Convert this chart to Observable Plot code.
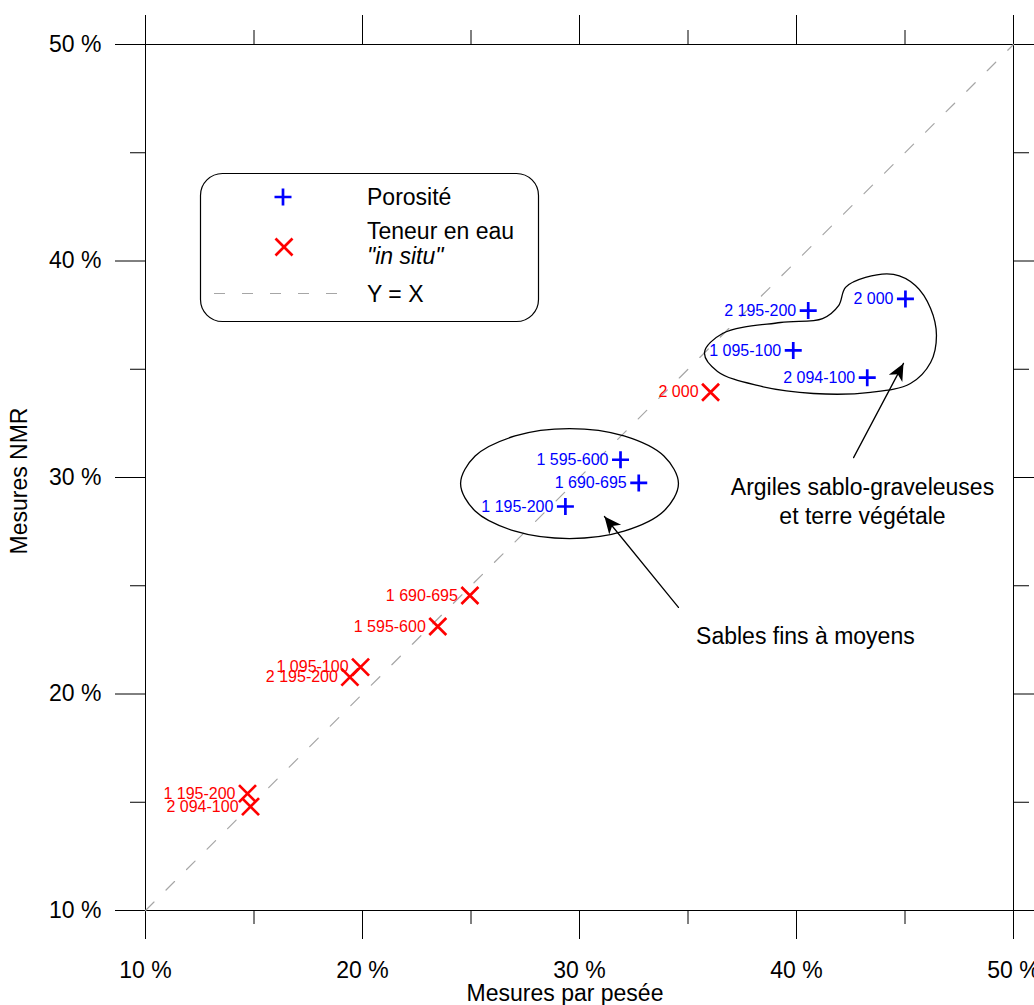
<!DOCTYPE html>
<html><head><meta charset="utf-8">
<script src="https://cdn.jsdelivr.net/npm/d3@7"></script>
<script src="https://cdn.jsdelivr.net/npm/@observablehq/plot@0.6"></script>
<style>body{margin:0;background:#fff}</style>
</head><body><div id="chart"></div>
<script>
// ---- Data ----
const porosityLabels = ["2 000", "2 195-200", "1 095-100", "2 094-100", "1 595-600", "1 690-695", "1 195-200"];
const porosityX = [45.02, 40.54, 39.85, 43.26, 31.89, 32.73, 29.35];
const porosityY = [38.25, 37.71, 35.87, 34.61, 30.82, 29.75, 28.66];

const waterLabels = ["2 000", "1 690-695", "1 595-600", "1 095-100", "2 195-200", "1 195-200", "2 094-100"];
const waterX = [36.04, 24.95, 23.47, 19.91, 19.42, 14.70, 14.84];
const waterY = [33.94, 24.55, 23.12, 21.24, 20.78, 15.40, 14.80];

const majorTicks = [10, 20, 30, 40, 50];
const minorTicks = [15, 25, 35, 45];
const diagonal = [10, 50];

// annotation outlines (control points)
const sandX = [34.56, 33.89, 32.05, 29.54, 27.03, 25.19, 24.52, 25.19, 27.03, 29.54, 32.05, 33.89];
const sandY = [29.72, 30.99, 31.92, 32.26, 31.92, 30.99, 29.72, 28.45, 27.52, 27.18, 27.52, 28.45];
const clayX = [35.76, 36.59, 39.26, 41.20, 41.94, 42.26, 43.18, 44.47, 45.48, 46.18, 46.45, 46.18, 45.25, 43.41, 40.78, 38.20, 36.36];
const clayY = [35.77, 36.65, 37.16, 37.34, 37.94, 38.78, 39.24, 39.38, 38.87, 37.81, 36.56, 35.31, 34.34, 33.93, 33.88, 34.25, 34.90];

const noteTexts = ["Argiles sablo-graveleuses\net terre végétale", "Sables fins à moyens"];
const noteX = [43.04, 40.41];
const noteY = [30.09, 23.24];
const arrowX1 = [42.63, 34.56], arrowY1 = [30.92, 24.0];
const arrowX2 = [44.93, 31.15], arrowY2 = [35.27, 28.2];

// ---- Tables ----
const porosity = porosityLabels.map((l, i) => ({label: l, x: porosityX[i], y: porosityY[i]}));
const water = waterLabels.map((l, i) => ({label: l, x: waterX[i], y: waterY[i]}));
const sand = sandX.map((x, i) => ({x, y: sandY[i]}));
const clay = clayX.map((x, i) => ({x, y: clayY[i]}));
const notes = noteTexts.map((t, i) => ({t, x: noteX[i], y: noteY[i]}));
const arrows = arrowX1.map((x1, i) => ({x1, y1: arrowY1[i], x2: arrowX2[i], y2: arrowY2[i],
  rot: Math.atan2(arrowX2[i] - x1, arrowY2[i] - arrowY1[i]) * 180 / Math.PI}));

const FONT = "'Liberation Sans', Arial, Helvetica, sans-serif";
const BLUE = "#0000ff", RED = "#ff0000";

const plusSymbol = {draw(ctx, size) { const r = Math.sqrt(size / Math.PI);
  ctx.moveTo(-r, 0); ctx.lineTo(r, 0); ctx.moveTo(0, -r); ctx.lineTo(0, r); }};
const timesSymbol = {draw(ctx, size) { const r = Math.sqrt(size / Math.PI);
  ctx.moveTo(-r, -r); ctx.lineTo(r, r); ctx.moveTo(-r, r); ctx.lineTo(r, -r); }};
const headSymbol = {draw(ctx, size) { const s = Math.sqrt(size / Math.PI);
  ctx.moveTo(0, 0); ctx.lineTo(-0.45 * s, s); ctx.lineTo(0, 0.72 * s); ctx.lineTo(0.45 * s, s); ctx.closePath(); }};

const fmt = d => `${d} %`;
const blank = () => "";

const chart = Plot.plot({
  width: 1034, height: 1005,
  marginLeft: 145, marginRight: 21, marginTop: 44, marginBottom: 95,
  style: {fontFamily: FONT, fontSize: "23px", background: "white", color: "black"},
  x: {domain: [10, 50]},
  y: {domain: [10, 50]},
  marks: [
    Plot.frame({stroke: "black"}),
    Plot.axisX({anchor: "bottom", ticks: majorTicks, tickSize: 29, tickPadding: 22, tickFormat: fmt, fontSize: 23, label: null, stroke: "black"}),
    Plot.axisX({anchor: "bottom", ticks: minorTicks, tickSize: 14, tickFormat: blank, label: null, stroke: "black"}),
    Plot.axisX({anchor: "top", ticks: majorTicks, tickSize: 30, tickFormat: blank, label: null, stroke: "black"}),
    Plot.axisX({anchor: "top", ticks: minorTicks, tickSize: 15, tickFormat: blank, label: null, stroke: "black"}),
    Plot.axisY({anchor: "left", ticks: majorTicks, tickSize: 30, tickPadding: 14, tickFormat: fmt, fontSize: 23, label: null, stroke: "black"}),
    Plot.axisY({anchor: "left", ticks: minorTicks, tickSize: 15, tickFormat: blank, label: null, stroke: "black"}),
    Plot.axisY({anchor: "right", ticks: majorTicks, tickSize: 30, tickFormat: blank, label: null, stroke: "black"}),
    Plot.axisY({anchor: "right", ticks: minorTicks, tickSize: 15, tickFormat: blank, label: null, stroke: "black"}),
    Plot.line(diagonal, {x: d => d, y: d => d, stroke: "#a6a6a6", strokeWidth: 1.2, strokeDasharray: "12,17"}),
    Plot.line(sand, {x: "x", y: "y", curve: "catmull-rom-closed", stroke: "black", strokeWidth: 1.3}),
    Plot.line(clay, {x: "x", y: "y", curve: "catmull-rom-closed", stroke: "black", strokeWidth: 1.3}),
    Plot.arrow(arrows, {x1: "x1", y1: "y1", x2: "x2", y2: "y2", stroke: "black", strokeWidth: 1.3, headLength: 0}),
    Plot.dot(arrows, {x: "x2", y: "y2", rotate: "rot", symbol: headSymbol, r: 17, fill: "black", stroke: "none"}),
    Plot.dot(porosity, {x: "x", y: "y", symbol: plusSymbol, r: 8.5, fill: "none", stroke: BLUE, strokeWidth: 2.7}),
    Plot.dot(water, {x: "x", y: "y", symbol: timesSymbol, r: 8.5, fill: "none", stroke: RED, strokeWidth: 2.7}),
    Plot.text(porosity, {x: "x", y: "y", text: "label", textAnchor: "end", dx: -12, fill: BLUE, fontSize: 16}),
    Plot.text(water, {x: "x", y: "y", text: "label", textAnchor: "end", dx: -12, fill: RED, fontSize: 16}),
    Plot.text(notes, {x: "x", y: "y", text: "t", lineAnchor: "top", lineHeight: 1.22, fontSize: 23, fill: "black"})
  ]
});

document.getElementById("chart").appendChild(chart);

// ---- Axis titles ----
const svg = d3.select(chart);
svg.append("text").attr("x", 565).attr("y", 1001).attr("text-anchor", "middle")
  .attr("font-family", FONT).attr("font-size", 23).attr("fill", "black").text("Mesures par pesée");
svg.append("text").attr("transform", "translate(27,481) rotate(-90)").attr("text-anchor", "middle")
  .attr("font-family", FONT).attr("font-size", 23).attr("fill", "black").text("Mesures NMR");

// ---- Legend ----
const lg = svg.append("g").attr("font-family", FONT).attr("font-size", 23).attr("fill", "black").attr("text-anchor", "start");
lg.append("rect").attr("x", 200.5).attr("y", 173.5).attr("width", 338).attr("height", 148)
  .attr("rx", 22).attr("fill", "white").attr("stroke", "black").attr("stroke-width", 1.2);
lg.append("path").attr("d", "M274.5,197H291.5M283,188.5V205.5").attr("stroke", BLUE).attr("stroke-width", 2.7).attr("fill", "none");
lg.append("path").attr("d", "M275.5,238.5L292.5,255.5M275.5,255.5L292.5,238.5").attr("stroke", RED).attr("stroke-width", 2.7).attr("fill", "none");
lg.append("line").attr("x1", 214).attr("x2", 345).attr("y1", 293.5).attr("y2", 293.5)
  .attr("stroke", "#a6a6a6").attr("stroke-width", 1.2).attr("stroke-dasharray", "11,17");
lg.append("text").attr("x", 367).attr("y", 205).attr("text-anchor", "start").text("Porosité");
lg.append("text").attr("x", 367).attr("y", 239).attr("text-anchor", "start").text("Teneur en eau");
lg.append("text").attr("x", 367).attr("y", 264).attr("text-anchor", "start").attr("font-style", "italic").text("\"in situ\"");
lg.append("text").attr("x", 367).attr("y", 302).attr("text-anchor", "start").text("Y = X");
</script></body></html>
